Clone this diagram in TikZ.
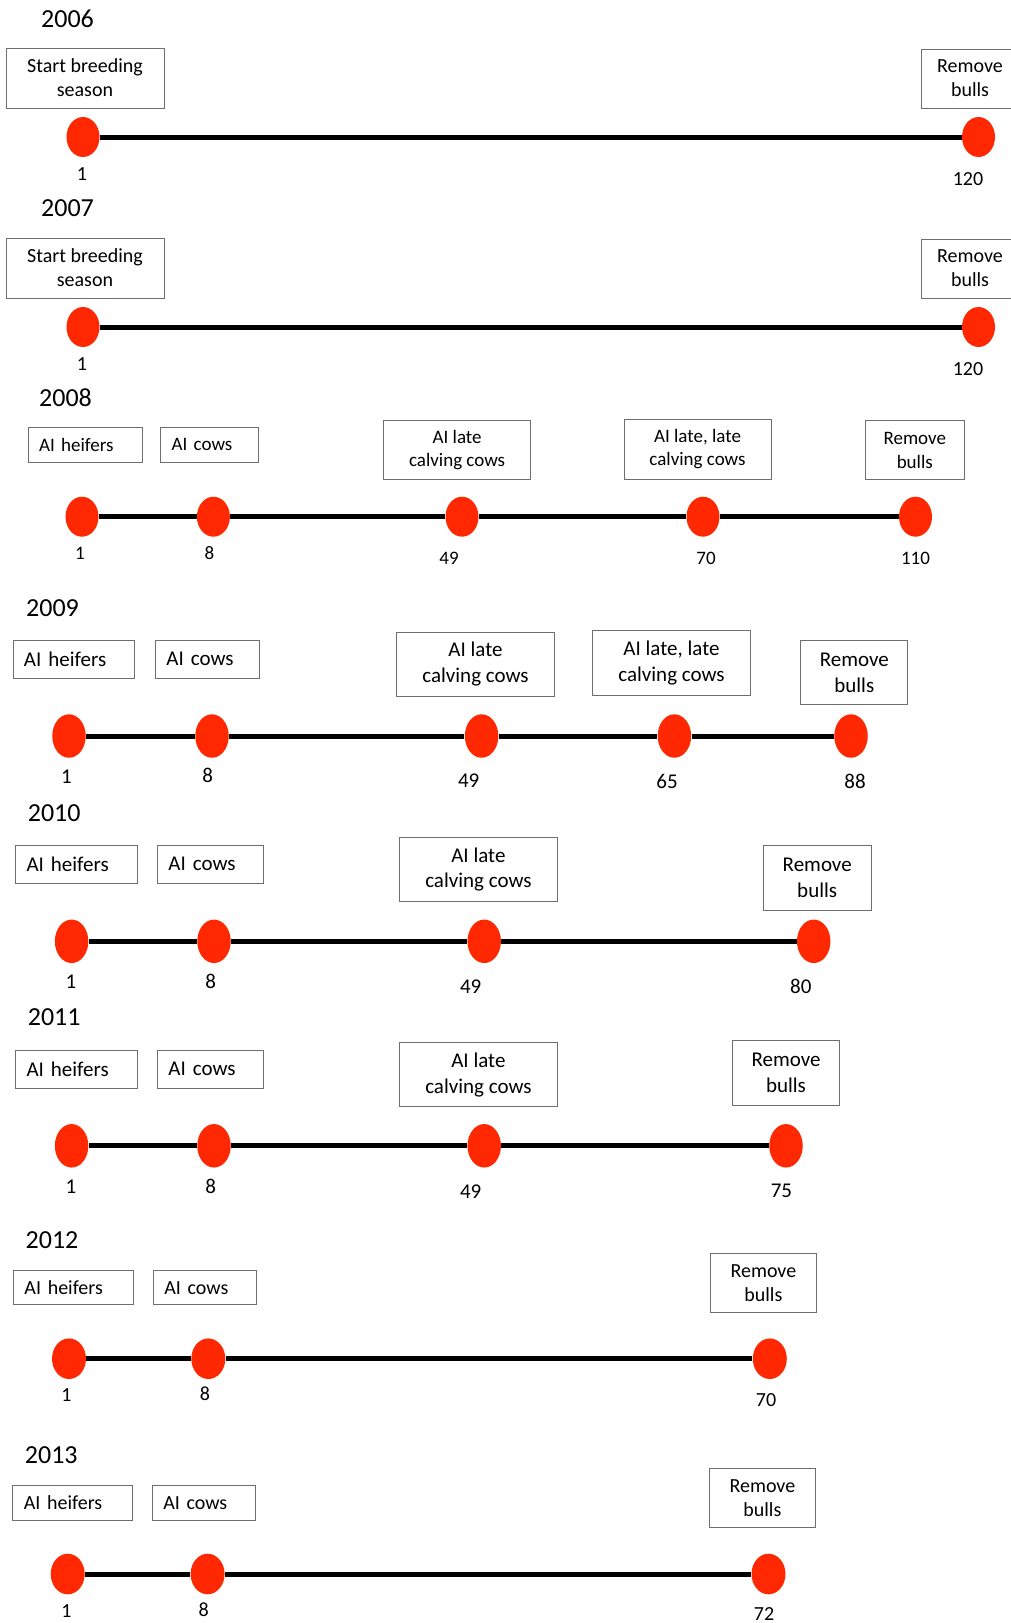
\documentclass[tikz,border=0pt]{standalone}
\usepackage{fontspec}
\setmainfont{Carlito}
\usepackage{xcolor}
\usetikzlibrary{shapes.geometric}
\definecolor{dotred}{RGB}{255,40,0}
\definecolor{boxgray}{RGB}{110,110,110}
\tikzset{
	evbox/.style={draw=boxgray, line width=0.5pt, align=center, inner sep=0pt},
	leftbox/.style={evbox, align=left, inner xsep=5.5pt, text width=#1},
	yearlbl/.style={font=\fontsize{13}{15}\selectfont, inner sep=0pt},
	daydot/.style={ellipse, fill=dotred, draw=none, inner sep=0pt,
			minimum width=16.5pt, minimum height=20pt},
	daynum/.style={inner sep=0pt},
	tline/.style={line width=2.5pt, black}
}

\begin{document}
\begin{tikzpicture}[x=0.5pt, y=-0.5pt]
        \clip (0, 0) rectangle (1011, 1623);
        \begin{scope}[font=\fontsize{10}{12}\selectfont]
        \node[yearlbl] (yr_06) at (67.5, 18.5) {2006};
        \node[evbox, minimum width=79pt, minimum height=30pt] (start_06) at (85, 78) {Start breeding\\season};
        \node[evbox, minimum width=49pt, minimum height=29.5pt] (remove_06) at (970, 78.5) {Remove\\bulls};
        \node[daydot] (p_1_06) at (83, 137) {};
        \node[daydot] (p_120_06) at (978.5, 137) {};
        \node[daynum] (n_1_06) at (82, 174) {1};
        \node[daynum] (n_120_06) at (968, 179) {120};
        \draw[tline] (p_1_06) -- (p_120_06);

        \node[yearlbl] (yr_07) at (67.5, 208.5) {2007};
        \node[evbox, minimum width=79pt, minimum height=30pt] (start_07) at (85, 268) {Start breeding\\season};
        \node[evbox, minimum width=49pt, minimum height=29.5pt] (remove_07) at (970, 268.5) {Remove\\bulls};
        \node[daydot] (p_1_07) at (83, 327) {};
        \node[daydot] (p_120_07) at (978.5, 327) {};
        \node[daynum] (n_1_07) at (82, 364) {1};
        \node[daynum] (n_120_07) at (968, 369) {120};
        \draw[tline] (p_1_07) -- (p_120_07);
        \end{scope}

        \begin{scope}[font=\fontsize{9.5}{11.7}\selectfont]
        \node[yearlbl] (yr_08) at (65.5, 398) {2008};
        \node[leftbox=46.25pt, minimum height=17.5pt] (heif_08) at (85.3, 444.5) {AI heifers};
        \node[leftbox=37.75pt, minimum height=17.5pt] (cows_08) at (209.3, 444.5) {AI cows};
        \node[evbox, minimum width=73.5pt, minimum height=29.65pt] (late_08) at (457.1, 450.3) {AI late\\calving cows};
        \node[evbox, minimum width=73.5pt, minimum height=30pt] (latelate_08) at (697.5, 449) {AI late, late\\calving cows};
        \node[evbox, minimum width=49.75pt, minimum height=29.65pt] (remove_08) at (914.8, 450.3) {Remove\\bulls};
        \node[daydot] (p_1_08) at (82, 516.7) {};
        \node[daydot] (p_8_08) at (213.4, 516.7) {};
        \node[daydot] (p_49_08) at (462, 516.7) {};
        \node[daydot] (p_70_08) at (703, 516.7) {};
        \node[daydot] (p_110_08) at (915.5, 516.7) {};
        \node[daynum] (n_1_08) at (80, 553) {1};
        \node[daynum] (n_8_08) at (209.5, 553) {8};
        \node[daynum] (n_49_08) at (449, 558) {49};
        \node[daynum] (n_70_08) at (706, 558) {70};
        \node[daynum] (n_110_08) at (915.5, 558) {110};
        \draw[tline] (p_1_08) -- (p_8_08);
        \draw[tline] (p_8_08) -- (p_49_08);
        \draw[tline] (p_49_08) -- (p_70_08);
        \draw[tline] (p_70_08) -- (p_110_08);
        \end{scope}

        \begin{scope}[font=\fontsize{10.5}{13}\selectfont, daydot/.append style={minimum width=16.75pt, minimum height=21.75pt}]
        \node[yearlbl] (yr_09) at (52.5, 608.3) {2009};
        \node[leftbox=49.9pt, minimum height=19pt] (heif_09) at (73.9, 659) {AI heifers};
        \node[leftbox=41.2pt, minimum height=19pt] (cows_09) at (207.6, 659) {AI cows};
        \node[evbox, minimum width=79pt, minimum height=32.2pt] (late_09) at (475.5, 664.5) {AI late\\calving cows};
        \node[evbox, minimum width=79pt, minimum height=32.3pt] (latelate_09) at (671.5, 663) {AI late, late\\calving cows};
        \node[evbox, minimum width=53.5pt, minimum height=31.8pt] (remove_09) at (854.3, 672.5) {Remove\\bulls};
        \node[daydot] (p_1_09) at (69, 736) {};
        \node[daydot] (p_8_09) at (212, 736) {};
        \node[daydot] (p_49_09) at (481.6, 736) {};
        \node[daydot] (p_65_09) at (674.4, 736) {};
        \node[daydot] (p_88_09) at (851, 736) {};
        \node[daynum] (n_1_09) at (66.4, 777) {1};
        \node[daynum] (n_8_09) at (207.6, 775) {8};
        \node[daynum] (n_49_09) at (468.7, 781) {49};
        \node[daynum] (n_65_09) at (667, 781) {65};
        \node[daynum] (n_88_09) at (855, 781) {88};
        \draw[tline] (p_1_09) -- (p_8_09);
        \draw[tline] (p_8_09) -- (p_49_09);
        \draw[tline] (p_49_09) -- (p_65_09);
        \draw[tline] (p_65_09) -- (p_88_09);

        \node[yearlbl] (yr_10) at (54.2, 813) {2010};
        \node[leftbox=49.9pt, minimum height=19pt] (heif_10) at (76.4, 864) {AI heifers};
        \node[leftbox=41.85pt, minimum height=19pt] (cows_10) at (210.2, 864) {AI cows};
        \node[evbox, minimum width=79.35pt, minimum height=32.2pt] (late_10) at (478.4, 869.5) {AI late\\calving cows};
        \node[evbox, minimum width=53.8pt, minimum height=32.35pt] (remove_10) at (817.2, 877.7) {Remove\\bulls};
        \node[daydot] (p_1_10) at (71.6, 941.3) {};
        \node[daydot] (p_8_10) at (214, 941.3) {};
        \node[daydot] (p_49_10) at (484.2, 941.3) {};
        \node[daydot] (p_80_10) at (813.7, 941.3) {};
        \node[daynum] (n_1_10) at (71, 981.7) {1};
        \node[daynum] (n_8_10) at (210.8, 981) {8};
        \node[daynum] (n_49_10) at (470.7, 986.7) {49};
        \node[daynum] (n_80_10) at (800.8, 986) {80};
        \draw[tline] (p_1_10) -- (p_8_10);
        \draw[tline] (p_8_10) -- (p_49_10);
        \draw[tline] (p_49_10) -- (p_80_10);

        \node[yearlbl] (yr_11) at (54.2, 1017.5) {2011};
        \node[leftbox=49.9pt, minimum height=19.15pt] (heif_11) at (76.4, 1069.2) {AI heifers};
        \node[leftbox=41.85pt, minimum height=19pt] (cows_11) at (210.2, 1069.2) {AI cows};
        \node[evbox, minimum width=79.35pt, minimum height=32.2pt] (late_11) at (478.4, 1074.5) {AI late\\calving cows};
        \node[evbox, minimum width=53.5pt, minimum height=32.3pt] (remove_11) at (786, 1073) {Remove\\bulls};
        \node[daydot] (p_1_11) at (71.6, 1145.8) {};
        \node[daydot] (p_8_11) at (214, 1145.8) {};
        \node[daydot] (p_49_11) at (484.2, 1145.8) {};
        \node[daydot] (p_75_11) at (786, 1145.8) {};
        \node[daynum] (n_1_11) at (71, 1186.7) {1};
        \node[daynum] (n_8_11) at (210.8, 1186) {8};
        \node[daynum] (n_49_11) at (470.7, 1191.7) {49};
        \node[daynum] (n_75_11) at (781.4, 1191) {75};
        \draw[tline] (p_1_11) -- (p_8_11);
        \draw[tline] (p_8_11) -- (p_49_11);
        \draw[tline] (p_49_11) -- (p_75_11);
        \end{scope}

        \begin{scope}[font=\fontsize{10}{12}\selectfont, daydot/.append style={minimum width=17pt, minimum height=20.3pt}]
        \node[yearlbl] (yr_12) at (52, 1240.5) {2012};
        \node[leftbox=49pt, minimum height=17pt] (heif_12) at (73.5, 1287.7) {AI heifers};
        \node[leftbox=40.6pt, minimum height=17pt] (cows_12) at (205, 1287.7) {AI cows};
        \node[evbox, minimum width=52.85pt, minimum height=29.3pt] (remove_12) at (763.4, 1283) {Remove\\bulls};
        \node[daydot] (p_1_12) at (69, 1358.7) {};
        \node[daydot] (p_8_12) at (208.3, 1358.7) {};
        \node[daydot] (p_70_12) at (769.8, 1358.7) {};
        \node[daynum] (n_1_12) at (66.4, 1395) {1};
        \node[daynum] (n_8_12) at (205, 1394) {8};
        \node[daynum] (n_70_12) at (766, 1400) {70};
        \draw[tline] (p_1_12) -- (p_8_12);
        \draw[tline] (p_8_12) -- (p_70_12);

        \node[yearlbl] (yr_13) at (51.3, 1455.3) {2013};
        \node[leftbox=49pt, minimum height=17.65pt] (heif_13) at (72.9, 1502.7) {AI heifers};
        \node[leftbox=40.5pt, minimum height=17.5pt] (cows_13) at (203.8, 1502.7) {AI cows};
        \node[evbox, minimum width=53.2pt, minimum height=29.7pt] (remove_13) at (762.4, 1498) {Remove\\bulls};
        \node[daydot] (p_1_13) at (67.7, 1574) {};
        \node[daydot] (p_8_13) at (207.6, 1574) {};
        \node[daydot] (p_72_13) at (768.5, 1574) {};
        \node[daynum] (n_1_13) at (66.4, 1610.7) {1};
        \node[daynum] (n_8_13) at (203.7, 1610) {8};
        \node[daynum] (n_72_13) at (764, 1614) {72};
        \draw[tline] (p_1_13) -- (p_8_13);
        \draw[tline] (p_8_13) -- (p_72_13);
        \end{scope}
    \end{tikzpicture}
\end{document}
